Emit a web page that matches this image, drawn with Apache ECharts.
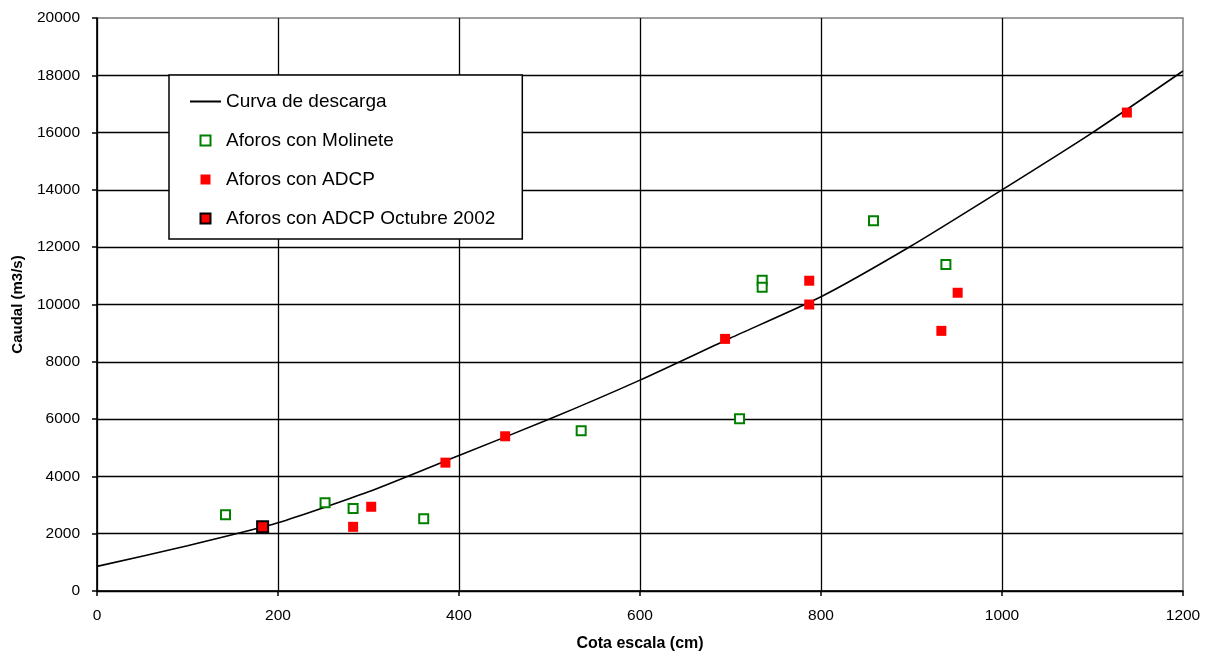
<!DOCTYPE html>
<html>
<head>
<meta charset="utf-8">
<script src="https://cdn.jsdelivr.net/npm/echarts@6/dist/echarts.min.js"></script>
<style>
  html, body { margin: 0; padding: 0; background: #fff; }
  #chart { width: 1215px; height: 657px; }
</style>
</head>
<body>
<div id="chart"></div>
<script>
// Rating curve: stage (cm) vs discharge (m3/s)
const curveStage = [0, 100, 200, 300, 400, 500, 600, 700, 800, 900, 1000, 1100, 1200];
const curveFlow  = [860, 1580, 2380, 3460, 4730, 6000, 7360, 8830, 10270, 12050, 14000, 16000, 18150];

// Current-meter gaugings
const molineteStage = [142, 252, 283, 361, 535, 710, 735, 735, 858, 938];
const molineteFlow  = [2660, 3080, 2880, 2520, 5590, 6010, 10850, 10600, 12920, 11400];

// ADCP gaugings
const adcpStage = [283, 303, 385, 451, 694, 787, 787, 933, 951, 1138];
const adcpFlow  = [2240, 2940, 4480, 5400, 8800, 10830, 10000, 9080, 10410, 16700];

// ADCP gauging, October 2002
const octStage = [183];
const octFlow  = [2240];

const pairs = (xs, ys) => xs.map((x, i) => [x, ys[i]]);

const names = ['Curva de descarga', 'Aforos con Molinete', 'Aforos con ADCP', 'Aforos con ADCP Octubre 2002'];
const sq = 'path://M0,0H10V10H0Z';
const dash = 'path://M0,0H31V2H0Z';
const font = 'Liberation Sans, Arial, sans-serif';
const plain = v => String(v);

const chart = echarts.init(document.getElementById('chart'), null, { renderer: 'canvas' });
chart.setOption({
  animation: false,
  backgroundColor: '#ffffff',
  textStyle: { fontFamily: font },
  grid: {
    left: 97, right: 32, top: 18, bottom: 66,
    show: true, borderColor: '#808080', borderWidth: 1.5, backgroundColor: 'transparent'
  },
  legend: {
    orient: 'vertical',
    left: 169, top: 75,
    padding: [17, 27, 11, 21],
    itemGap: 20,
    itemWidth: 31, itemHeight: 10,
    backgroundColor: '#ffffff',
    borderColor: '#000000', borderWidth: 1.5,
    textStyle: { fontFamily: font, fontSize: 19, color: '#000' },
    data: [
      { name: names[0], icon: dash, itemStyle: { color: '#000', borderWidth: 0 } },
      { name: names[1], icon: sq },
      { name: names[2], icon: sq },
      { name: names[3], icon: sq }
    ]
  },
  xAxis: {
    type: 'value', min: 0, max: 1200, interval: 200,
    name: 'Cota escala (cm)', nameLocation: 'middle', nameGap: 45,
    nameTextStyle: { fontFamily: font, fontSize: 16, fontWeight: 'bold', color: '#000' },
    axisLine: { onZero: false, lineStyle: { color: '#000', width: 1.5 } },
    axisTick: { show: true, inside: false, length: 5, lineStyle: { color: '#000', width: 1.5 } },
    axisLabel: { fontFamily: font, fontSize: 15.5, color: '#000', margin: 17, formatter: plain },
    splitLine: { show: true, showMaxLine: false, lineStyle: { color: '#000', width: 1.3 } }
  },
  yAxis: {
    type: 'value', min: 0, max: 20000, interval: 2000,
    name: 'Caudal (m3/s)', nameLocation: 'middle', nameGap: 72, nameRotate: 90,
    nameTextStyle: { fontFamily: font, fontSize: 15, fontWeight: 'bold', color: '#000' },
    axisLine: { onZero: false, lineStyle: { color: '#000', width: 1.5 } },
    axisTick: { show: true, inside: false, length: 5, lineStyle: { color: '#000', width: 1.5 } },
    axisLabel: { fontFamily: font, fontSize: 15.5, color: '#000', margin: 17, formatter: plain },
    splitLine: { show: true, showMaxLine: false, lineStyle: { color: '#000', width: 1.3 } }
  },
  series: [
    {
      name: names[0], type: 'line', data: pairs(curveStage, curveFlow),
      symbol: 'none', smooth: 0.2, z: 3,
      lineStyle: { color: '#000', width: 1.6 },
      itemStyle: { color: '#000' }
    },
    {
      name: names[1], type: 'scatter', data: pairs(molineteStage, molineteFlow),
      symbol: sq, symbolSize: 9, z: 4,
      itemStyle: { color: '#ffffff', borderColor: '#008000', borderWidth: 2, opacity: 1 }
    },
    {
      name: names[2], type: 'scatter', data: pairs(adcpStage, adcpFlow),
      symbol: sq, symbolSize: 10, z: 4,
      itemStyle: { color: '#ff0000', opacity: 1 }
    },
    {
      name: names[3], type: 'scatter', data: pairs(octStage, octFlow),
      symbol: sq, symbolSize: 11, z: 5,
      itemStyle: { color: '#ff0000', borderColor: '#000000', borderWidth: 2, opacity: 1 }
    }
  ]
});
</script>
</body>
</html>
